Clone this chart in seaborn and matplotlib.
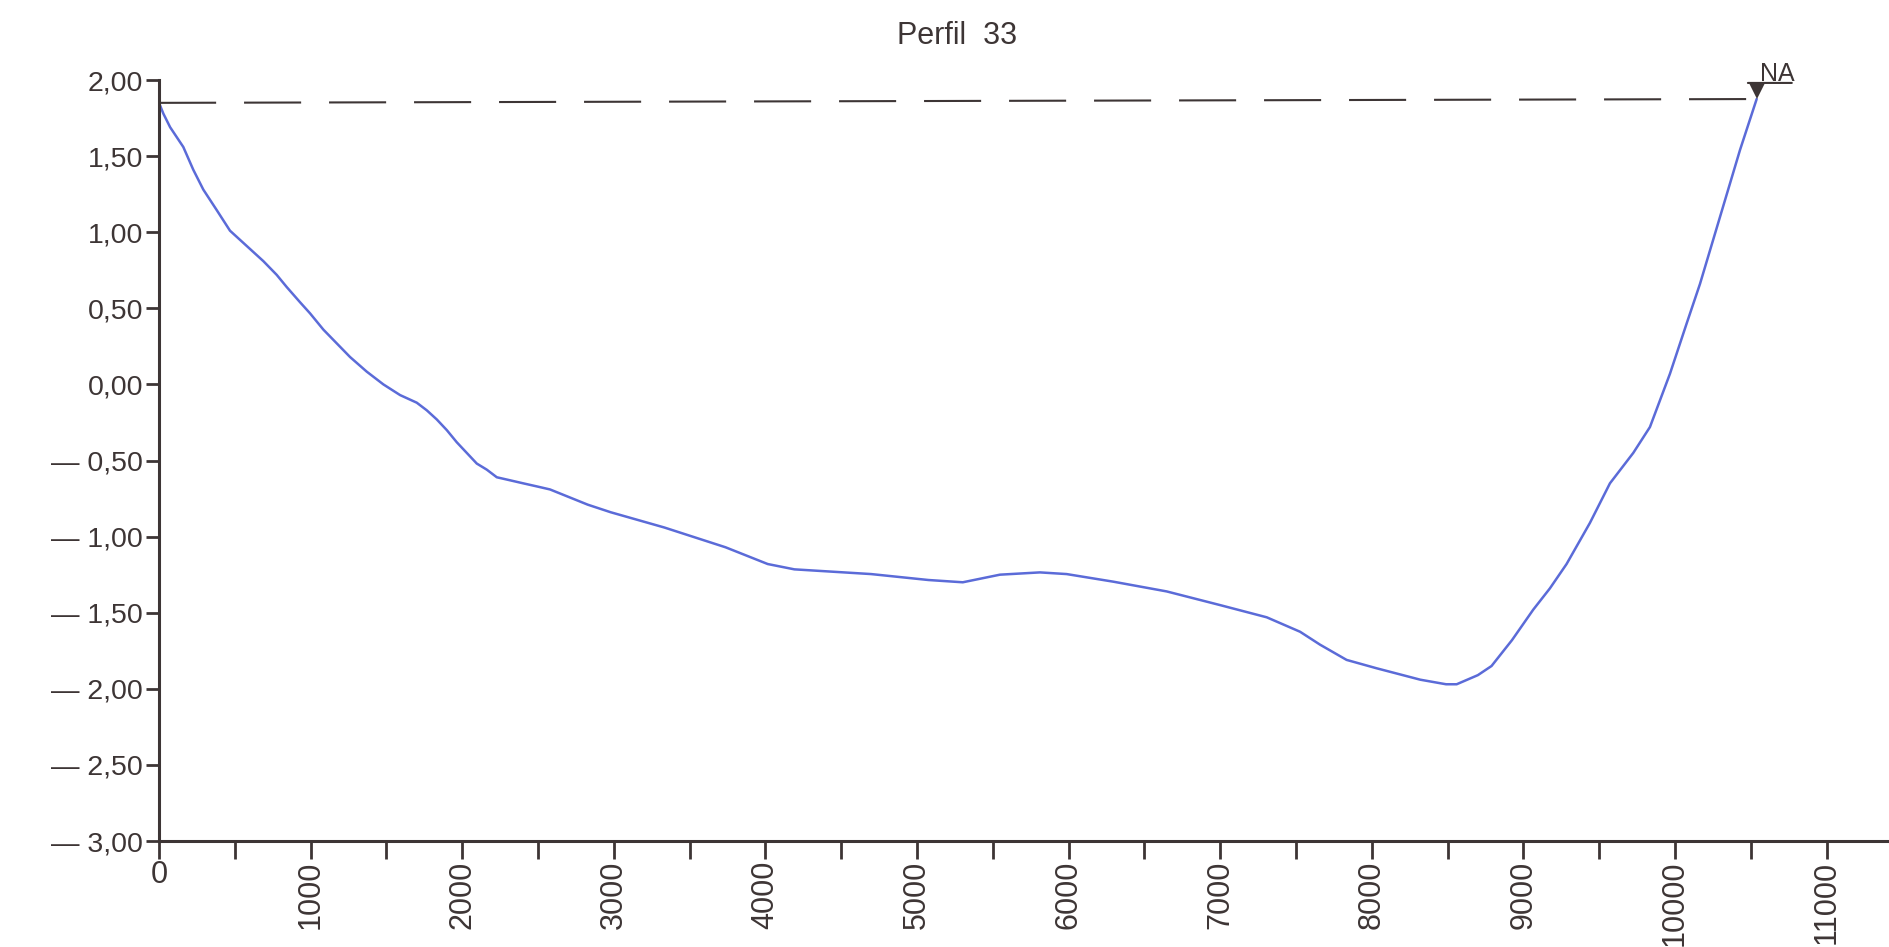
import matplotlib
matplotlib.use("Agg")
import matplotlib.pyplot as plt
from matplotlib.ticker import MultipleLocator
from matplotlib.transforms import offset_copy
import pandas as pd
import seaborn as sns

# Cross-section profile: distance along the section (m) and bed elevation (m)
distance = [0, 28, 73, 160, 226, 292, 380, 468, 534, 600, 688, 776, 842, 930,
            996, 1084, 1172, 1260, 1370, 1480, 1590, 1700, 1766, 1832, 1898,
            1964, 2030, 2096, 2162, 2228, 2316, 2403, 2492, 2579, 2828, 2980,
            3333, 3737, 4015, 4191, 4697, 5075, 5302, 5547, 5811, 5987, 6295,
            6647, 7000, 7307, 7527, 7659, 7834, 8032, 8320, 8490, 8560, 8700,
            8790, 8925, 9065, 9175, 9285, 9439, 9571, 9725, 9835, 9967, 10077,
            10165, 10297, 10429, 10539]
elevation = [1.85, 1.78, 1.69, 1.56, 1.41, 1.28, 1.146, 1.01, 0.95, 0.89, 0.81,
             0.72, 0.64, 0.54, 0.467, 0.36, 0.27, 0.18, 0.084, 0.00, -0.07,
             -0.12, -0.17, -0.23, -0.30, -0.38, -0.45, -0.52, -0.56, -0.61,
             -0.63, -0.65, -0.67, -0.69, -0.79, -0.84, -0.94, -1.07, -1.18,
             -1.215, -1.246, -1.285, -1.30, -1.25, -1.235, -1.246, -1.296,
             -1.36, -1.45, -1.53, -1.625, -1.71, -1.81, -1.865, -1.94, -1.97,
             -1.97, -1.91, -1.85, -1.68, -1.48, -1.34, -1.18, -0.91, -0.65,
             -0.45, -0.28, 0.07, 0.40, 0.66, 1.10, 1.54, 1.875]

y_ticks = [2.0, 1.5, 1.0, 0.5, 0.0, -0.5, -1.0, -1.5, -2.0, -2.5, -3.0]
x_ticks = list(range(0, 11001, 1000))
x_tick_labels = [str(v) for v in x_ticks]
title = "Perfil  33"
water_label = "NA"

ink = "#3d3535"
profile_color = "#5b6bd8"

sns.set_style("ticks")
plt.rcParams["font.family"] = ["Liberation Sans", "DejaVu Sans"]

fig = plt.figure(figsize=(18.89, 9.47), dpi=100)
ax = fig.add_axes([0.0842, 0.1119, 0.9158, 0.8036])

df = pd.DataFrame({"distance": distance, "elevation": elevation})
sns.lineplot(data=df, x="distance", y="elevation", sort=False,
             color=profile_color, linewidth=1.8, ax=ax)
for line in ax.get_lines():
    line.set_solid_joinstyle("round")

# Water level between the two bank points
x_end, y_end = distance[-1], elevation[-1]
ax.plot([distance[0], x_end], [elevation[0], y_end], color=ink, lw=1.5,
        dashes=(27.4, 13.4), solid_capstyle="butt")

# Water-level symbol: inverted triangle, bar and label
ax.plot([x_end], [y_end], marker="v", ms=12.2, color=ink, mew=0,
        transform=offset_copy(ax.transData, fig=fig, x=0, y=5.9, units="points"),
        clip_on=False)
ax.annotate("", xy=(x_end, y_end),
            xycoords=offset_copy(ax.transData, fig=fig, x=-6.3, y=11.6, units="points"),
            xytext=(x_end, y_end),
            textcoords=offset_copy(ax.transData, fig=fig, x=25.3, y=11.6, units="points"),
            arrowprops=dict(arrowstyle="-", color=ink, lw=1.5, shrinkA=0, shrinkB=0),
            annotation_clip=False)
ax.annotate(water_label, xy=(x_end, y_end), xytext=(2.2, 13.2),
            textcoords="offset points", ha="left", va="baseline",
            fontsize=18, color=ink, annotation_clip=False)

ax.set_xlim(0, 11412)
ax.set_ylim(-3.0, 2.0)

ax.set_yticks(y_ticks)
ax.set_yticklabels([f"{v:.2f}".replace(".", ",").replace("-", "\u2014 ")
                    for v in y_ticks])
ax.set_xticks(x_ticks)
ax.set_xticklabels(x_tick_labels, rotation=90)
ax.get_xticklabels()[0].set_rotation(0)
ax.xaxis.set_minor_locator(MultipleLocator(500))

ax.tick_params(axis="y", length=9.4, width=2, pad=2, labelsize=20.5,
               color=ink, labelcolor=ink)
ax.tick_params(axis="x", which="both", length=13, width=2, pad=1, labelsize=22,
               color=ink, labelcolor=ink)

for side in ("top", "right"):
    ax.spines[side].set_visible(False)
for side in ("left", "bottom"):
    ax.spines[side].set_linewidth(2.2)
    ax.spines[side].set_color(ink)

ax.set_xlabel("")
ax.set_ylabel("")

fig.text(957 / 1889, 1 - 36 / 947, title, ha="center", va="center",
         fontsize=22, color=ink)

fig.savefig("out.png", dpi=100, facecolor="white")
